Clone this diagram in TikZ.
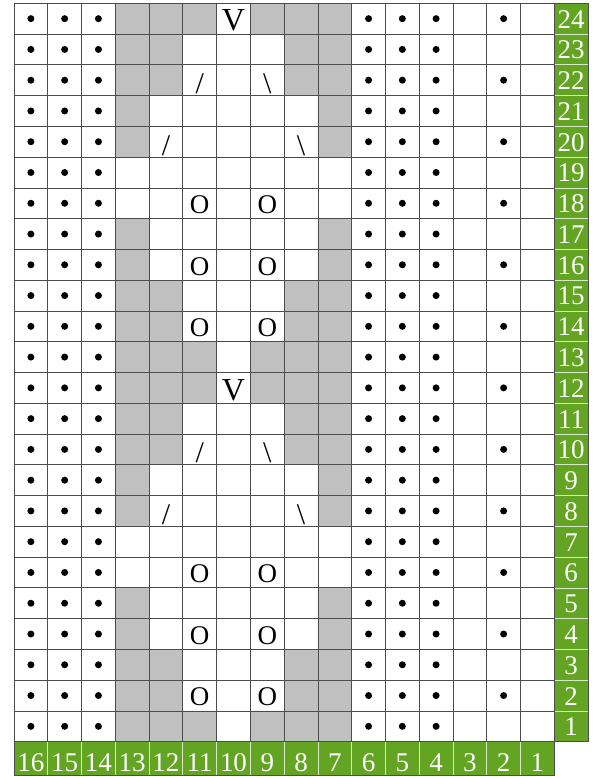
\documentclass[tikz,border=0pt]{standalone}
\usepackage{fontspec}
\setmainfont{Liberation Serif}
\usepackage{tikz}
\definecolor{chartgreen}{RGB}{99,165,34}
\definecolor{nostitch}{RGB}{192,192,192}
\tikzstyle{purldot} = [circle, minimum width=7pt, fill, inner sep=0pt]
\tikzstyle{cellline} = [black!70, line width=0.75pt]
\tikzstyle{numline} = [white!75!chartgreen, line width=0.7pt]
\tikzstyle{numtext} = [text=white, font=\fontsize{27}{27}\selectfont, inner sep=0pt]
\tikzstyle{yo} = [font=\fontsize{27}{27}\selectfont, inner sep=0pt]
\tikzstyle{dec} = [font=\fontsize{30}{30}\selectfont, inner sep=0pt]
\tikzstyle{slip} = [font=\fontsize{32}{32}\selectfont, inner sep=0pt]

\begin{document}
\begin{tikzpicture}[x=33.77pt, y=30.77pt]
\useasboundingbox (-0.415,-1.18) rectangle (17.205,24.107);
\fill[white] (-0.415,-1.18) rectangle (17.205,24.107);

	\foreach \x in {3,9} \fill[nostitch] (\x,0) rectangle ++(1,5) (\x,7) rectangle ++(1,10) (\x,19) rectangle ++(1,5);
	\foreach \x in {4,8} \fill[nostitch] (\x,0) rectangle ++(1,3) (\x,9) rectangle ++(1,6) (\x,21) rectangle ++(1,3);
	\foreach \x in {5,7} \fill[nostitch] (\x,0) rectangle ++(1,1) (\x,11) rectangle ++(1,2) (\x,23) rectangle ++(1,1);

	\fill[chartgreen] (16,0) rectangle (17,24);
	\fill[chartgreen] (0,-1.08) rectangle (16,0);
	\foreach \r in {1,...,23} \draw[numline] (16,\r) -- (17,\r);
	\foreach \i in {1,...,15} \draw[numline] (\i,-1.08) -- (\i,0);

	\foreach \i in {0,...,16} \draw[cellline] (\i,0) -- (\i,24);
	\foreach \r in {0,...,24} \draw[cellline] (0,\r) -- (16,\r);
	\draw[cellline] (16,0) rectangle (17,24);
	\draw[cellline] (0,-1.08) rectangle (16,0);

	\foreach \r in {1,...,24} \foreach \c in {16,15,14,6,5,4}
		\node[purldot] (p\c-\r) at (16.5-\c,\r-0.5) {};
	\foreach \r in {2,4,...,24} \node[purldot] (p2-\r) at (14.5,\r-0.5) {};

	\foreach \r in {2,4,6,14,16,18} {
		\node[yo] (ya\r) at (5.5,\r-0.55) {O};
		\node[yo] (yb\r) at (7.5,\r-0.55) {O};
	}
	\foreach \r in {8,20} {
		\node[dec] (da\r) at (4.5,\r-0.62) {/};
		\node[dec] (db\r) at (8.5,\r-0.62) {\textbackslash};
	}
	\foreach \r in {10,22} {
		\node[dec] (da\r) at (5.5,\r-0.62) {/};
		\node[dec] (db\r) at (7.5,\r-0.62) {\textbackslash};
	}
	\foreach \r in {12,24} \node[slip] (v\r) at (6.5,\r-0.565) {V};

	\foreach \r in {1,...,24} \node[numtext] (r\r) at (16.5,\r-0.52) {\r};
	\foreach \c in {1,...,16} \node[numtext] (c\c) at (16.5-\c,-0.68) {\c};
\end{tikzpicture}
\end{document}
